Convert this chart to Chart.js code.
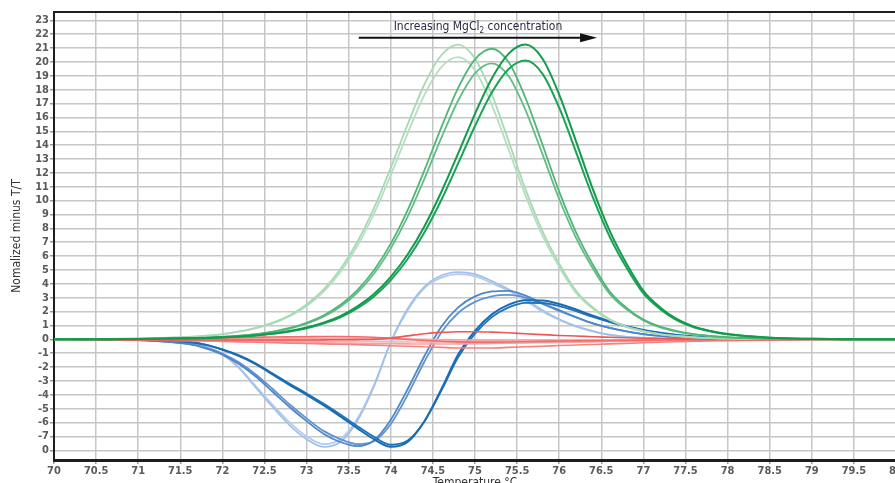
<!DOCTYPE html>
<html>
<head>
<meta charset="utf-8">
<script src="https://cdn.jsdelivr.net/npm/chart.js@4.4.1/dist/chart.umd.min.js"></script>
<style>
  html, body { margin: 0; padding: 0; background: #fff; overflow: hidden; }
  #chart { display: block; }
</style>
</head>
<body>
<canvas id="chart" width="960" height="490"></canvas>
<script>
// temperature points (°C), denser where the peaks are
const temps = [70, 70.5, 71, 71.6, 71.8, 72, 72.2, 72.4, 72.6, 72.8,
               73, 73.2, 73.4, 73.6, 73.8, 74, 74.2, 74.4, 74.6, 74.8,
               75, 75.2, 75.4, 75.6, 75.8, 76, 76.2, 76.4, 76.6, 76.8,
               77, 77.2, 77.4, 77.6, 77.8, 78, 78.5, 79, 79.5, 80];

const xTickValues = [70, 70.5, 71, 71.5, 72, 72.5, 73, 73.5, 74, 74.5, 75, 75.5, 76, 76.5, 77, 77.5, 78, 78.5, 79, 79.5, 80];
const yTickValues = [-8, -7, -6, -5, -4, -3, -2, -1, 0, 1, 2, 3, 4, 5, 6, 7, 8, 9, 10, 11, 12, 13, 14, 15, 16, 17, 18, 19, 20, 21, 22, 23];
const yTickLabels = ['0', '-7', '-6', '-5', '-4', '-3', '-2', '-1', '0', '1', '2', '3', '4', '5', '6', '7', '8', '9', '10', '11', '12', '13', '14', '15', '16', '17', '18', '19', '20', '21', '22', '23'];

// green melt peaks (low -> high MgCl2)
const greenLight1 = [0, 0.02, 0.06, 0.18, 0.26, 0.38, 0.57, 0.83, 1.20, 1.74, 2.51, 3.58, 5.05, 7.00, 9.46, 12.37, 15.50, 18.39, 20.48, 21.25, 20.25, 17.65, 14.27, 10.81, 7.82, 5.45, 3.50, 2.30, 1.45, 0.92, 0.60, 0.38, 0.24, 0.15, 0.09, 0.05, 0.01, 0, 0, 0];
const greenLight2 = [0, 0.02, 0.06, 0.17, 0.25, 0.36, 0.55, 0.80, 1.15, 1.67, 2.40, 3.43, 4.84, 6.71, 9.06, 11.85, 14.85, 17.62, 19.62, 20.35, 19.40, 16.91, 13.67, 10.36, 7.49, 5.22, 3.35, 2.20, 1.39, 0.88, 0.57, 0.36, 0.23, 0.14, 0.09, 0.05, 0.01, 0, 0, 0];
const greenMid1 = [0, 0, 0.03, 0.08, 0.12, 0.18, 0.26, 0.38, 0.56, 0.82, 1.19, 1.72, 2.47, 3.53, 4.98, 6.90, 9.32, 12.20, 15.28, 18.13, 20.19, 20.95, 19.97, 17.40, 14.07, 10.65, 7.71, 5.38, 3.45, 2.27, 1.43, 0.91, 0.59, 0.37, 0.24, 0.15, 0.04, 0.01, 0, 0];
const greenMid2 = [0, 0, 0.03, 0.08, 0.11, 0.17, 0.25, 0.36, 0.53, 0.78, 1.13, 1.63, 2.35, 3.35, 4.73, 6.56, 8.85, 11.59, 14.52, 17.22, 19.18, 19.90, 18.97, 16.53, 13.37, 10.12, 7.32, 5.11, 3.28, 2.16, 1.36, 0.86, 0.56, 0.35, 0.23, 0.14, 0.04, 0.01, 0, 0];
const greenDark1 = [0, 0, 0.03, 0.07, 0.10, 0.15, 0.21, 0.30, 0.42, 0.60, 0.85, 1.20, 1.68, 2.36, 3.27, 4.51, 6.12, 8.16, 10.62, 13.40, 16.26, 18.81, 20.60, 21.25, 20.25, 17.65, 14.27, 10.81, 7.82, 5.45, 3.50, 2.30, 1.45, 0.92, 0.60, 0.38, 0.12, 0.04, 0.01, 0];
const greenDark2 = [0, 0, 0.03, 0.07, 0.09, 0.14, 0.20, 0.28, 0.40, 0.57, 0.80, 1.14, 1.59, 2.23, 3.09, 4.27, 5.79, 7.72, 10.05, 12.68, 15.38, 17.79, 19.49, 20.10, 19.16, 16.70, 13.50, 10.23, 7.40, 5.16, 3.31, 2.18, 1.37, 0.87, 0.57, 0.36, 0.11, 0.04, 0.01, 0];

// blue curves: dip then bump
const blueLight1 = [0, 0, -0.03, -0.25, -0.55, -1.1, -2.1, -3.5, -4.9, -6.2, -7.2, -7.75, -7.4, -5.9, -3.4, -0.2, 2.2, 3.8, 4.6, 4.85, 4.7, 4.2, 3.6, 2.9, 2.1, 1.45, 0.95, 0.6, 0.33, 0.18, 0.1, 0.06, 0.03, 0.02, 0.01, 0.01, 0, 0, 0, 0];
const blueLight2 = [0, 0, -0.03, -0.24, -0.53, -1.07, -2.04, -3.4, -4.75, -6.0, -7.0, -7.55, -7.2, -5.75, -3.3, -0.2, 2.1, 3.7, 4.45, 4.7, 4.55, 4.05, 3.5, 2.8, 2.0, 1.4, 0.92, 0.58, 0.32, 0.18, 0.1, 0.06, 0.03, 0.02, 0.01, 0, 0, 0, 0, 0];
const blueMid1 = [0, 0, -0.05, -0.35, -0.65, -1.1, -1.8, -2.7, -3.8, -4.9, -5.9, -6.8, -7.4, -7.7, -7.3, -5.8, -3.6, -1.2, 0.9, 2.3, 3.1, 3.45, 3.5, 3.15, 2.6, 2.1, 1.6, 1.15, 0.82, 0.57, 0.38, 0.25, 0.16, 0.1, 0.06, 0.04, 0.01, 0, 0, 0];
const blueMid2 = [0, 0, -0.05, -0.33, -0.6, -1.02, -1.68, -2.55, -3.6, -4.7, -5.7, -6.6, -7.2, -7.55, -7.35, -6.1, -4.0, -1.6, 0.5, 1.9, 2.7, 3.1, 3.2, 3.0, 2.55, 2.05, 1.58, 1.15, 0.82, 0.57, 0.38, 0.25, 0.16, 0.1, 0.06, 0.04, 0.01, 0, 0, 0];
const blueDark1 = [0, 0, -0.03, -0.2, -0.4, -0.75, -1.2, -1.8, -2.55, -3.3, -4.0, -4.75, -5.55, -6.4, -7.2, -7.75, -7.4, -5.9, -3.6, -1.1, 0.6, 1.8, 2.5, 2.82, 2.8, 2.55, 2.15, 1.7, 1.3, 0.95, 0.68, 0.47, 0.32, 0.21, 0.14, 0.09, 0.03, 0.01, 0, 0];
const blueDark2 = [0, 0, -0.03, -0.19, -0.38, -0.72, -1.15, -1.74, -2.47, -3.2, -3.9, -4.63, -5.42, -6.25, -7.03, -7.6, -7.3, -5.9, -3.7, -1.3, 0.4, 1.6, 2.3, 2.63, 2.62, 2.4, 2.03, 1.61, 1.24, 0.91, 0.65, 0.45, 0.31, 0.2, 0.13, 0.09, 0.03, 0.01, 0, 0];

// red (no template) curves near zero
const red1 = [-0.05, -0.05, -0.05, -0.05, -0.05, -0.05, -0.05, -0.05, -0.05, -0.05, -0.05, -0.04, -0.03, -0.02, 0, 0.1, 0.25, 0.4, 0.5, 0.55, 0.55, 0.52, 0.47, 0.4, 0.34, 0.28, 0.24, 0.19, 0.15, 0.11, 0.08, 0.06, 0.04, 0.02, 0.01, 0, 0, -0.02, -0.03, -0.03];
const red2 = [-0.03, -0.02, 0, 0.05, 0.08, 0.1, 0.13, 0.15, 0.17, 0.18, 0.19, 0.2, 0.2, 0.19, 0.15, 0.08, 0, -0.08, -0.14, -0.18, -0.2, -0.2, -0.19, -0.17, -0.15, -0.13, -0.11, -0.1, -0.08, -0.07, -0.06, -0.05, -0.04, -0.04, -0.03, -0.03, -0.03, -0.03, -0.03, -0.03];
const red3 = [-0.05, -0.05, -0.06, -0.08, -0.1, -0.12, -0.14, -0.16, -0.18, -0.2, -0.22, -0.24, -0.26, -0.28, -0.3, -0.32, -0.33, -0.34, -0.34, -0.33, -0.32, -0.3, -0.28, -0.26, -0.24, -0.22, -0.2, -0.18, -0.16, -0.14, -0.12, -0.1, -0.09, -0.08, -0.07, -0.06, -0.05, -0.05, -0.05, -0.05];
const red4 = [-0.05, -0.05, -0.06, -0.1, -0.12, -0.15, -0.18, -0.21, -0.24, -0.27, -0.3, -0.33, -0.36, -0.39, -0.42, -0.46, -0.5, -0.54, -0.58, -0.62, -0.63, -0.62, -0.58, -0.54, -0.5, -0.45, -0.41, -0.37, -0.33, -0.29, -0.25, -0.21, -0.17, -0.14, -0.11, -0.09, -0.06, -0.05, -0.05, -0.05];
const red5 = [-0.03, -0.03, -0.04, -0.06, -0.07, -0.08, -0.09, -0.1, -0.11, -0.12, -0.13, -0.14, -0.15, -0.16, -0.17, -0.18, -0.19, -0.2, -0.2, -0.2, -0.2, -0.2, -0.19, -0.18, -0.17, -0.16, -0.15, -0.14, -0.13, -0.12, -0.11, -0.1, -0.09, -0.08, -0.07, -0.06, -0.05, -0.04, -0.04, -0.04];
const red6 = [-0.02, -0.02, -0.01, 0, 0.02, 0.03, 0.04, 0.05, 0.06, 0.07, 0.08, 0.08, 0.08, 0.07, 0.06, 0.04, 0.02, 0, -0.02, -0.04, -0.06, -0.07, -0.08, -0.08, -0.08, -0.08, -0.08, -0.07, -0.07, -0.06, -0.06, -0.05, -0.05, -0.04, -0.04, -0.04, -0.03, -0.03, -0.03, -0.03];

// arrow annotation, in data units
const arrowFrom = 73.62;
const arrowTo = 76.45;
const arrowLevel = 21.75;
const noteLevel = 22.55;

const FONT = "'Liberation Sans Narrow', 'Arial Narrow', 'DejaVu Sans Condensed', sans-serif";

function line(label, values, color, width) {
    return {
        label: label,
        data: values.map((v, i) => ({ x: temps[i], y: v })),
        borderColor: color,
        borderWidth: width,
        pointRadius: 0,
        fill: false,
        cubicInterpolationMode: 'monotone'
    };
}

// first dataset ends up on top
const datasets = [
    line('green dark 1', greenDark1, '#129b4c', 2),
    line('green dark 2', greenDark2, '#1aa356', 2),
    line('green mid 1', greenMid1, '#52b578', 1.8),
    line('green mid 2', greenMid2, '#62bd84', 1.8),
    line('green light 1', greenLight1, '#a7d9b4', 1.8),
    line('green light 2', greenLight2, '#b5dfc0', 1.8),
    line('red 1', red1, '#ef5656', 1.6),
    line('red 2', red2, '#f26c6c', 1.6),
    line('red 4', red4, '#f28383', 1.6),
    line('red 3', red3, '#f6a2a2', 1.6),
    line('red 5', red5, '#f8b5b5', 1.6),
    line('red 6', red6, '#f7a6a6', 1.6),
    line('blue dark 1', blueDark1, '#176cb4', 2),
    line('blue dark 2', blueDark2, '#2272b8', 1.8),
    line('blue mid 1', blueMid1, '#4e86c9', 1.8),
    line('blue mid 2', blueMid2, '#6094d0', 1.8),
    line('blue light 1', blueLight1, '#a3c1e8', 1.8),
    line('blue light 2', blueLight2, '#b3cced', 1.8)
];

// top frame line plus the "Increasing MgCl2" arrow
const frame = {
    id: 'frame',
    afterDraw(chart) {
        const { ctx, chartArea: a, scales: { x, y } } = chart;
        ctx.save();
        ctx.strokeStyle = '#1e1e1e';
        ctx.lineWidth = 2;
        ctx.beginPath();
        ctx.moveTo(a.left - 1, a.top);
        ctx.lineTo(a.right + 40, a.top);
        ctx.stroke();

        const x0 = x.getPixelForValue(arrowFrom);
        const x1 = x.getPixelForValue(arrowTo);
        const ya = y.getPixelForValue(arrowLevel);
        ctx.fillStyle = '#111';
        ctx.strokeStyle = '#111';
        ctx.lineWidth = 2;
        ctx.beginPath();
        ctx.moveTo(x0, ya);
        ctx.lineTo(x1 - 12, ya);
        ctx.stroke();
        ctx.beginPath();
        ctx.moveTo(x1, ya);
        ctx.lineTo(x1 - 17, ya - 4.5);
        ctx.lineTo(x1 - 17, ya + 4.5);
        ctx.closePath();
        ctx.fill();

        // text with a subscript 2
        const yt = y.getPixelForValue(noteLevel);
        const partA = 'Increasing MgCl';
        const partB = ' concentration';
        ctx.fillStyle = '#2b2b45';
        ctx.textBaseline = 'middle';
        ctx.font = '12px ' + FONT;
        const wA = ctx.measureText(partA).width;
        const wB = ctx.measureText(partB).width;
        ctx.font = '8px ' + FONT;
        const wS = ctx.measureText('2').width;
        let tx = (x0 + x1) / 2 - (wA + wS + wB) / 2;
        ctx.font = '12px ' + FONT;
        ctx.textAlign = 'left';
        ctx.fillText(partA, tx, yt);
        ctx.font = '8px ' + FONT;
        ctx.fillText('2', tx + wA, yt + 4);
        ctx.font = '12px ' + FONT;
        ctx.fillText(partB, tx + wA + wS, yt);
        ctx.restore();
    }
};

new Chart(document.getElementById('chart'), {
    type: 'line',
    data: { datasets: datasets },
    plugins: [frame],
    options: {
        responsive: false,
        animation: false,
        layout: { padding: { left: 0, right: 64, top: 12, bottom: 0 } },
        plugins: { legend: { display: false }, tooltip: { enabled: false } },
        scales: {
            x: {
                type: 'linear',
                min: 70,
                max: 80,
                afterBuildTicks: (scale) => { scale.ticks = xTickValues.map(v => ({ value: v })); },
                afterFit: (scale) => { scale.height = 30; },
                grid: { color: '#c6c6c6', lineWidth: 1.5, tickLength: 4, tickColor: '#9a9a9a' },
                border: { color: '#1e1e1e', width: 3 },
                ticks: {
                    color: '#5a5a5a',
                    font: { family: FONT, size: 11, weight: 'bold' },
                    padding: 1,
                    maxRotation: 0,
                    autoSkip: false,
                    callback: (v) => String(v)
                },
                title: {
                    display: true,
                    text: 'Temperature °C',
                    color: '#333',
                    font: { family: FONT, size: 12 },
                    padding: { top: 0, bottom: 0 }
                }
            },
            y: {
                type: 'linear',
                min: -8.7,
                max: 23.6,
                afterBuildTicks: (scale) => { scale.ticks = yTickValues.map(v => ({ value: v })); },
                afterFit: (scale) => { scale.width = 54; },
                grid: { color: '#c6c6c6', lineWidth: 1.5, tickLength: 4, tickColor: '#9a9a9a' },
                border: { color: '#1e1e1e', width: 2 },
                ticks: {
                    color: '#5a5a5a',
                    font: { family: FONT, size: 11, weight: 'bold' },
                    padding: 1,
                    autoSkip: false,
                    callback: (v) => yTickLabels[yTickValues.indexOf(v)]
                },
                title: {
                    display: true,
                    text: 'Nomalized minus T/T',
                    color: '#333',
                    font: { family: FONT, size: 12 },
                    padding: { top: 10, bottom: 0 }
                }
            }
        }
    }
});
</script>
</body>
</html>
